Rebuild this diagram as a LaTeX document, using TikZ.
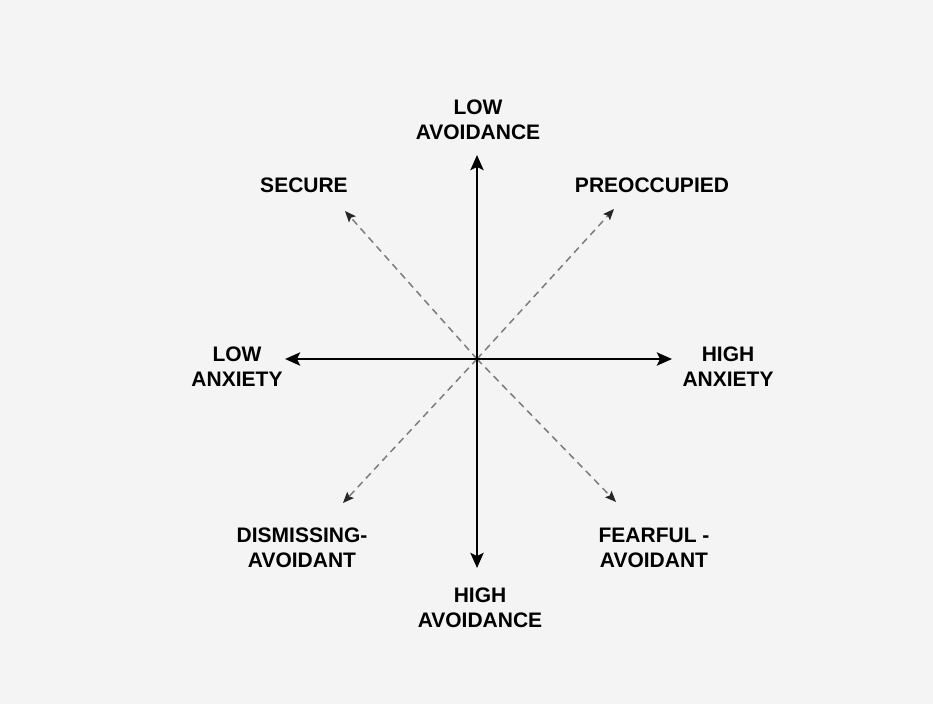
\documentclass[tikz,border=0pt]{standalone}
\usepackage{fontspec}
\setmainfont{Liberation Sans}
\usetikzlibrary{arrows.meta}
\definecolor{paper}{RGB}{244,244,244}
\definecolor{dashcol}{RGB}{125,125,125}

\begin{document}
\begin{tikzpicture}[x=1pt,y=-1pt,>=Stealth,
    axisarrow/.style={->,line width=2.8pt,
      >={Stealth[length=15pt,width=13pt,inset=3pt]}},
    diagarrow/.style={->,dashcol,line width=1.5pt,dash pattern=on 7pt off 5pt,
      >={Stealth[length=11pt,width=9pt,inset=2pt,black!85]}},
    lbl/.style={font=\fontsize{21}{25}\selectfont\bfseries,align=center,inner sep=0pt}]
  \fill[paper] (0,0) rectangle (933,704);
  \useasboundingbox (0,0) rectangle (933,704);
  % centre and arrow tips
  \coordinate (c) at (477,359);
  \coordinate (tN) at (477,155);
  \coordinate (tS) at (477,568);
  \coordinate (tW) at (285,359);
  \coordinate (tE) at (672,359);
  \coordinate (tNW) at (345,211);
  \coordinate (tNE) at (614,209);
  \coordinate (tSW) at (343,503);
  \coordinate (tSE) at (616,502);
  % labels
  \node[lbl] (lowav) at (478,120) {LOW\\AVOIDANCE};
  \node[lbl] (highav) at (480,608) {HIGH\\AVOIDANCE};
  \node[lbl] (lowanx) at (237,367) {LOW\\ANXIETY};
  \node[lbl] (highanx) at (728,367) {HIGH\\ANXIETY};
  \node[lbl] (secure) at (304,185) {SECURE};
  \node[lbl] (preocc) at (652,185) {PREOCCUPIED};
  \node[lbl] (dismiss) at (302,548) {DISMISSING-\\AVOIDANT};
  \node[lbl] (fearful) at (654,548) {FEARFUL -\\AVOIDANT};
  % dashed diagonals
  \draw[diagarrow] (c) -- (tNW);
  \draw[diagarrow] (c) -- (tNE);
  \draw[diagarrow] (c) -- (tSW);
  \draw[diagarrow] (c) -- (tSE);
  % axes
  \draw[axisarrow] (c) -- (tN);
  \draw[axisarrow] (c) -- (tS);
  \draw[axisarrow] (c) -- (tW);
  \draw[axisarrow] (c) -- (tE);
\end{tikzpicture}
\end{document}
